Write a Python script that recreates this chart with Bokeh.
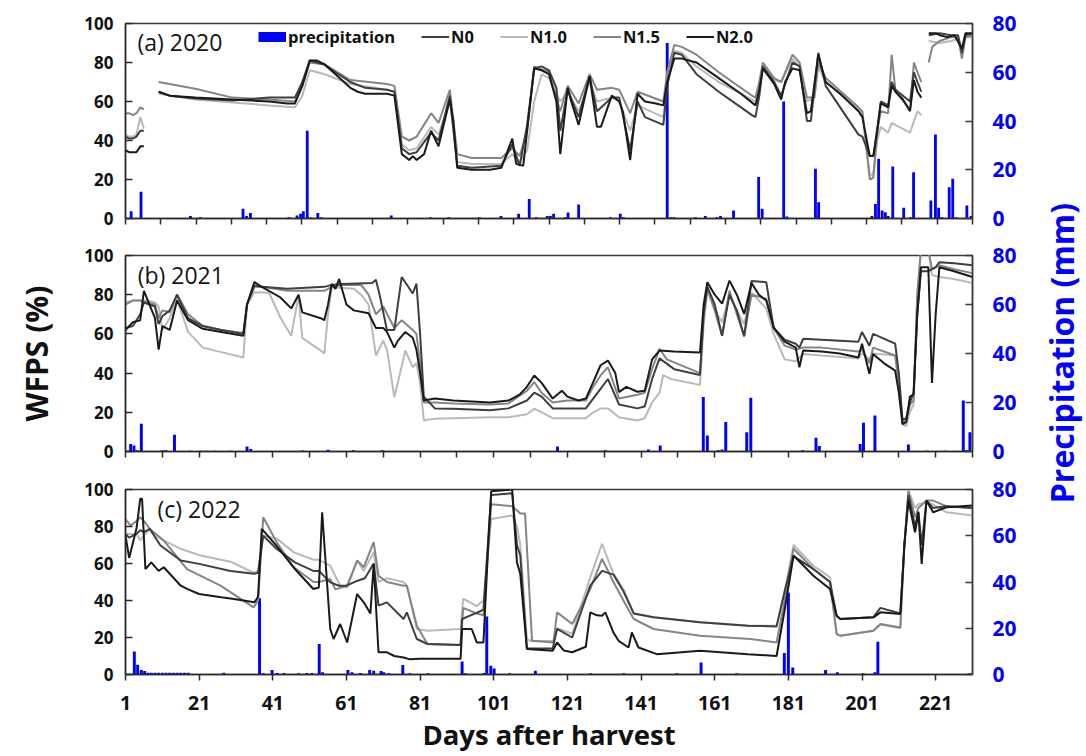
import math
from bokeh.plotting import figure
from bokeh.models import Range1d, LinearAxis, FixedTicker, Label, Legend, LegendItem
from bokeh.layouts import column, row
from bokeh.embed import file_html
from bokeh.resources import INLINE

NaN = float("nan")

# ---------------- 2020 (panel a, x axis 0..240) ----------------
A_PRECIP = [(1.6, 3), (4.4, 11), (18.4, 1), (21.2, 0.5), (33.3, 4), (34.3, 1), (35.4, 2.3), (46.3, 0.5),
            (48.6, 1.2), (49.6, 1.9), (50.4, 3), (51.5, 36), (52.6, 0.4), (54.5, 2.3), (55.4, 0.5), (75.3, 1.2),
            (86.4, 0.5), (91.6, 0.5), (100.3, 0.5), (106.4, 1), (111.4, 1.9), (114.4, 8), (116.4, 0.5),
            (119.5, 1), (120.4, 1), (121.3, 1.9), (124.6, 0.5), (125.4, 2.5), (128.4, 5.7), (137.4, 0.5),
            (140.2, 1.9), (141.1, 0.5), (153.5, 72), (154.5, 0.5), (155.4, 0.5), (161.5, 0.5), (164.3, 1),
            (167.6, 0.5), (168.6, 1), (172.3, 3.3), (179.4, 17), (180.4, 4), (186.5, 48), (187.4, 0.8),
            (195.5, 20.4), (196.4, 6.7), (211.5, 1), (212.5, 6), (213.4, 24.5), (214.4, 3.3), (215.3, 2.6),
            (216.1, 1), (217.4, 21.3), (220.5, 4.4), (222.4, 0.5), (223.3, 19), (228.2, 7.4), (229.5, 34.5),
            (230.4, 4.4), (231.3, 0.5), (233.4, 12.8), (234.4, 16.3), (235.3, 0.5), (238.4, 5.3), (239.6, 1)]

A_N0 = [(0, 42), (1, 41), (2.1, 41), (3.1, 42), (4.2, 45), (5.2, 45), (6, NaN),
        (9.4, 65), (12.5, 63), (19.8, 61.5), (30.3, 60.5), (40.7, 62), (48.0, 62), (50.1, 70), (52.2, 81),
        (54.3, 80), (56.4, 79), (59.5, 75), (63.7, 70), (67.9, 67), (74.1, 66), (76.2, 65), (78.3, 36),
        (80.4, 33), (82.5, 34), (86.6, 44), (88.7, 40), (91.9, 63), (94.0, 27), (98.1, 26), (106.5, 27),
        (109.6, 38), (111.7, 27), (113.8, 48), (115.8, 77), (117.9, 78), (120.0, 76), (122.1, 67),
        (123.2, 45), (125.3, 66), (128.4, 52), (131.5, 73), (133.6, 55), (137.8, 62), (139.9, 62),
        (143.0, 35), (145.1, 60), (147.2, 52), (152.4, 48), (153.5, 68), (155.5, 85), (157.6, 84),
        (161.8, 74), (168.1, 65), (174.4, 57), (177.5, 53), (178.5, 52), (179.6, 63), (180.6, 78),
        (183.8, 70), (185.8, 63), (189.0, 80), (191.0, 78), (193.1, 50), (194.2, 50), (196.3, 85),
        (198.4, 68), (207.7, 43), (208.8, 42), (210.9, 32), (211.9, 32), (213.0, 44), (214.0, 60),
        (216.1, 58), (217.1, 70), (218.2, 66), (222.3, 60), (223.4, 75), (224.4, 70), (225.5, 65),
        (226.5, NaN), (227.6, 94), (230.7, 95), (233.9, 94), (235.9, 94), (237.0, 85), (238.0, 94), (240, 95)]

A_N10 = [(0, 43), (1, 42), (2.1, 42), (3.1, 43), (4.2, 52), (5.2, 46), (6, NaN),
         (9.4, 64), (19.8, 61), (30.3, 59.5), (40.7, 58), (48.0, 57), (50.1, 63), (52.2, 76), (56.4, 74),
         (63.7, 69), (74.1, 66), (76.2, 65), (78.3, 38), (80.4, 35), (82.5, 36), (86.6, 47), (88.7, 43),
         (91.9, 60), (94.0, 29), (98.1, 28), (106.5, 28), (109.6, 33), (111.7, 29), (113.8, 35), (115.8, 60),
         (117.9, 74), (120.0, 72), (123.2, 60), (125.3, 65), (128.4, 55), (131.5, 70), (133.6, 60),
         (137.8, 62), (139.9, 60), (143.0, 45), (145.1, 58), (152.4, 52), (153.5, 70), (155.5, 86),
         (157.6, 85), (161.8, 78), (168.1, 70), (177.5, 61), (178.5, 60), (179.6, 68), (180.6, 78),
         (183.8, 71), (185.8, 70), (189.0, 82), (191.0, 78), (193.1, 60), (195.2, 62), (196.3, 78),
         (198.4, 70), (207.7, 56), (208.8, 54), (210.9, 22), (211.9, 23), (213.0, 40), (214.0, 47),
         (216.1, 44), (217.1, 49), (219.2, 47), (222.3, 44), (223.4, 50), (224.4, 55), (225.5, 53),
         (226.5, NaN), (227.6, 91), (230.7, 90), (233.9, 91), (235.9, 92), (237.0, 88), (238.0, 93), (240, 93)]

A_N15 = [(0, 54), (1, 54), (2.1, 53), (3.1, 54), (4.2, 57), (5.2, 56), (6, NaN),
         (9.4, 70), (19.8, 66.5), (30.3, 62), (40.7, 61), (48.0, 60), (50.1, 68), (52.2, 80), (56.4, 79),
         (63.7, 71), (74.1, 69), (76.2, 68), (78.3, 42), (80.4, 40), (82.5, 42), (86.6, 54), (88.7, 49),
         (91.9, 66), (94.0, 33), (98.1, 31), (106.5, 31), (109.6, 36), (111.7, 32), (113.8, 45), (115.8, 78),
         (120.0, 75), (123.2, 55), (125.3, 68), (128.4, 59), (131.5, 74), (133.6, 66), (137.8, 67),
         (139.9, 66), (143.0, 54), (145.1, 65), (152.4, 60), (153.5, 75), (155.5, 89), (157.6, 88),
         (161.8, 84), (168.1, 75), (177.5, 63), (178.5, 62), (179.6, 70), (180.6, 80), (183.8, 72),
         (185.8, 70), (189.0, 84), (191.0, 80), (193.1, 62), (195.2, 62), (196.3, 80), (198.4, 72),
         (207.7, 57), (208.8, 55), (210.9, 20), (211.9, 21), (213.0, 45), (214.0, 55), (216.1, 54),
         (217.1, 84), (218.2, 65), (222.3, 56), (223.4, 80), (224.4, 75), (225.5, 70), (226.5, NaN),
         (227.6, 80), (228.6, 88), (230.7, 91), (233.9, 93), (235.9, 93), (237.0, 82), (238.0, 93), (240, 94)]

A_N20 = [(0, 35), (1, 34), (2.1, 34), (3.1, 34), (4.2, 37), (5.2, 37), (6, NaN),
         (9.4, 65), (12.5, 63), (19.8, 62), (30.3, 61), (40.7, 60), (45.9, 59), (48.0, 59), (50.1, 68),
         (52.2, 81), (54.3, 81), (56.4, 79), (59.5, 74), (63.7, 67), (65.8, 65), (67.9, 64), (69.9, 64),
         (74.1, 64), (76.2, 63), (78.3, 33), (80.4, 30), (81.4, 32), (82.5, 30), (84.6, 33), (86.6, 45),
         (88.7, 37), (91.9, 61), (92.9, 50), (94.0, 26), (98.1, 25), (103.3, 25), (106.5, 26), (109.6, 41),
         (110.7, 28), (112.7, 27), (113.8, 45), (115.8, 77), (117.9, 76), (120.0, 74), (122.1, 60),
         (123.2, 33), (125.3, 67), (126.3, 60), (128.4, 48), (131.5, 73), (133.6, 47), (134.7, 47),
         (137.8, 63), (139.9, 60), (140.9, 55), (143.0, 30), (145.1, 64), (147.2, 60), (150.3, 59),
         (152.4, 58), (153.5, 70), (155.5, 82), (157.6, 82), (161.8, 80), (168.1, 72), (174.4, 64),
         (178.5, 58), (179.6, 66), (180.6, 77), (183.8, 69), (185.8, 61), (186.9, 70), (189.0, 77),
         (191.0, 76), (193.1, 54), (194.2, 55), (196.3, 84), (198.4, 70), (202.5, 64), (207.7, 55),
         (208.8, 52), (210.9, 32), (211.9, 32), (213.0, 46), (214.0, 59), (216.1, 57), (217.1, 68),
         (218.2, 65), (220.3, 61), (222.3, 55), (223.4, 71), (224.4, 65), (225.5, 62), (226.5, NaN),
         (227.6, 95), (229.7, 95), (230.7, 94), (232.8, 93), (234.9, 94), (237.0, 87), (238.0, 95), (240, 95)]

# ---------------- 2021 (panel b) ----------------
B_PRECIP = [(2.4, 3.1), (3.3, 2.4), (4.2, 0.5), (5.3, 11.3), (11, 0.5), (12, 0.5), (14.3, 6.8), (18.4, 0.3),
            (21.3, 0.3), (23.1, 0.3), (25.3, 0.3), (29.3, 0.3), (34, 2), (35, 1), (49, 0.4), (56, 0.7),
            (62.9, 0.5), (70.7, 0.5), (118.3, 2), (131.3, 0.5), (143, 0.8), (146.2, 2.4), (157.9, 22.2),
            (159, 6.5), (162, 0.5), (163, 0.8), (164, 12), (169.7, 7.9), (170.8, 21.9), (184.9, 0.5),
            (188.5, 5.6), (189.4, 2.2), (200.5, 3.1), (201.4, 11.7), (204.5, 14.7), (213.6, 2.9),
            (218.6, 0.3), (223.6, 0.3), (228.5, 20.8), (229.4, 0.5), (230.3, 7.9)]

B_N0 = [(1, 63), (3, 64), (5, 70), (6, 76), (9, 74), (10, 65), (11, 69), (13, 72), (15, 80), (18, 68), (22, 64),
        (27, 62), (33, 60), (34, 75), (36, 84.7), (38, 84), (45, 83), (55, 84), (57, 85), (60, 85.5), (68, 86),
        (69, 87.6), (70, 80), (72, 62), (74, 62), (76, 89), (79, 80.6), (80, 85.7), (81, 60), (82, 28), (85, 22),
        (90, 21.8), (100, 21), (105, 22), (110, 26), (112, 30), (114, 28), (117, 22), (121, 22), (126, 22),
        (128, 27), (130, 32), (132, 37), (135, 24), (140, 22), (142, 23), (144, 37), (146, 47.5), (150, 42),
        (157, 39), (158, 70), (159, 84), (161, 75), (163, 59), (165, 80), (167, 72), (169, 58.7), (171, 87),
        (175, 86.4), (177, 63), (180, 57), (183, 55), (184, 53), (185, 57.5), (190, 57), (200, 56), (201, 61),
        (203, 54), (204, 60), (210, 55), (211, 40), (212, 16), (213, 17), (214, 25), (215, 30), (216, 70),
        (217, 92), (219, 92), (221, 94), (222, 96.6), (226, 96), (231, 95)]

B_N10 = [(1, 76), (3, 77), (5, 77), (7, 77), (9, 76), (10, 74), (11, 62), (13, 68), (15, 77.6), (18, 61),
         (22, 53), (27, 50.7), (33, 48), (34, 75), (36, 81.3), (40, 81), (43, 68.5), (46, 59), (48, 79.6),
         (49, 58), (54, 51.5), (55, 50), (56, 70), (57, 83.8), (63, 83), (65, 80), (67, 75), (69, 49),
         (71, 56.6), (72, 52), (74, 27.7), (77, 51.5), (79, 43), (80, 45), (81, 35), (82, 16), (85, 16.7),
         (90, 17), (100, 17.5), (105, 17.5), (110, 19), (112, 21.8), (114, 20), (117, 17), (121, 17), (126, 17),
         (128, 20), (130, 21.9), (132, 22), (135, 17.5), (140, 15.8), (142, 17), (144, 25), (146, 30),
         (147, 39), (149, 37), (157, 34), (158, 65), (159, 82), (161, 72), (163, 66), (165, 80), (167, 72),
         (169, 65), (171, 81), (175, 73), (177, 60), (180, 47), (183, 46), (185, 49.8), (190, 49), (200, 47.5),
         (201, 50), (203, 47), (204, 50), (210, 49), (211, 35), (212, 14), (213, 13), (214, 20), (215, 24),
         (216, 80), (217, 103), (219, 103), (220, 90), (222, 89), (226, 88), (231, 86)]

B_N15 = [(1, 75), (3, 77), (5, 77), (7, 76), (9, 75), (10, 68), (11, 72), (13, 71), (15, 80), (18, 70), (22, 64),
         (27, 62), (33, 60.5), (34, 75), (36, 84), (38, 84), (45, 82), (55, 82), (57, 84), (60, 85), (65, 85),
         (67, 80), (69, 70), (71, 74), (74, 63), (76, 67), (79, 62), (80, 60), (81, 45), (82, 25), (85, 25),
         (90, 24.5), (100, 24), (105, 24.5), (110, 31), (112, 35.4), (114, 30), (117, 25), (121, 26), (126, 26),
         (128, 33), (130, 38.8), (132, 43), (135, 27), (140, 29), (142, 30), (144, 42), (146, 52.4), (148, 47),
         (157, 40), (158, 70), (159, 84), (161, 72), (163, 59), (165, 82), (167, 70), (169, 59), (171, 80),
         (175, 78), (177, 63), (180, 54), (183, 52), (185, 53), (190, 53), (200, 51), (201, 52), (203, 45),
         (204, 53), (210, 49), (211, 35), (212, 14), (213, 16), (214, 24), (215, 26), (216, 80), (217, 103),
         (219, 103), (220, 93), (222, 95), (226, 93), (231, 91)]

B_N20 = [(1, 62), (3, 66), (5, 67), (6, 82), (9, 68), (10, 52), (11, 64), (13, 62), (15, 77), (18, 67),
         (22, 62.6), (27, 61), (33, 59), (34, 75), (36, 86.5), (38, 84), (43, 78.7), (46, 73), (48, 80), (49, 71),
         (54, 68), (55, 67), (56, 75), (57, 85.5), (58, 83), (59, 88), (61, 75), (63, 72), (67, 70.5), (69, 63),
         (71, 63), (72, 61), (74, 53), (75, 56.6), (77, 61), (79, 58), (80, 52), (81, 40), (82, 26), (85, 27),
         (90, 26), (95, 25.5), (100, 25), (105, 26), (108, 29), (110, 33), (112, 38.8), (114, 35), (117, 27),
         (119.5, 31), (121, 28), (124, 26), (126, 27), (128, 35.4), (130, 44), (132, 46.4), (134, 40),
         (135, 30.3), (137, 33), (140, 30.5), (142, 31), (144, 47), (146, 51.5), (150, 51), (157, 50.5),
         (158, 75), (159, 86.4), (161, 80), (163, 75.4), (165, 87.2), (167, 80), (169, 70.2), (171, 86),
         (173, 80), (175, 77), (177, 63.4), (180, 56), (183, 53), (184, 43), (185, 51.5), (190, 51), (195, 50),
         (200, 48), (201, 55), (203, 39.6), (204, 49.8), (207, 45), (210, 41.3), (211, 30), (212, 14), (213, 15),
         (214, 28), (215, 29), (216, 70), (217, 94), (219, 94), (220, 35), (221, 70), (222, 94), (226, 92),
         (231, 89)]

# ---------------- 2022 (panel c) ----------------
C_PRECIP = [(3.4, 10), (4.3, 4.2), (5.3, 2), (6.2, 1.5), (7.1, 0.8), (8, 0.8), (9, 0.8), (10, 0.8), (11, 0.8),
            (12, 0.8), (13, 0.8), (14, 0.8), (15, 0.8), (16, 0.8), (17, 0.8), (18, 0.8), (27.7, 0.8), (37.4, 33),
            (38.4, 0.5), (40.8, 1.9), (42.2, 0.7), (44, 0.7), (48, 0.5), (50.3, 0.7), (51.6, 0.7), (53.6, 13.2),
            (54.5, 1), (61.4, 2), (62.5, 1), (64.8, 0.7), (67.3, 2), (68.4, 1.6), (70.4, 1.5), (71.1, 1),
            (72.5, 0.5), (76.3, 4.1), (78.3, 0.5), (83.2, 0.5), (92.4, 5.6), (93.3, 0.5), (98.4, 0.7),
            (99.1, 25.1), (100.2, 3.8), (101.1, 2.6), (105.3, 0.5), (112.3, 1.6), (127.3, 0.5), (136.3, 0.5),
            (150.7, 0.5), (157.3, 5.2), (167, 0.5), (179.9, 9.3), (181, 35.5), (182.2, 3), (191.1, 2),
            (194.3, 1), (201.3, 0.5), (204.5, 1), (205.3, 14.2), (230.3, 0.5)]

C_N0 = [(1, 76), (2, 74), (4, 76), (5, 78), (6, 77), (7.6, 78.7), (10.5, 69.7), (16, 61.6), (21, 59.8),
        (29.5, 56), (36, 54.4), (37, 55), (38.4, 75), (42, 68), (47, 60.6), (52, 56), (53.5, 56), (56.6, 49.8),
        (59, 48), (61, 48), (64, 50.7), (66, 52), (68.4, 60), (69.7, 37.2), (72, 39), (76.5, 30), (77.4, 33.6),
        (80.1, 19.2), (83, 16.5), (92, 16), (92.4, 30), (96, 33), (98.2, 35), (100.3, 97), (106, 98),
        (107.3, 70), (108.2, 64.3), (110, 14), (117, 14), (118.2, 24.6), (122.3, 20), (127.2, 48), (130.4, 56),
        (133.5, 54), (136.2, 45), (139, 33), (144.4, 30.9), (157, 28.2), (170, 26.4), (177.8, 26), (180, 45),
        (182.4, 64), (187.8, 57), (192.3, 50), (194.1, 31.8), (195.1, 30), (204.1, 31), (206, 36), (211.4, 33),
        (212.5, 70), (213.6, 97), (215.4, 80), (216.3, 88), (217.2, 70), (218.5, 94), (220.3, 90), (223.9, 91),
        (231, 90)]

C_N10 = [(1, 76), (2.4, 76), (4, 76), (5, 72.4), (6.4, 76), (7.6, 78.7), (10.5, 73.3), (15.9, 68), (21.4, 64.3),
         (29.5, 61), (35.8, 55), (37, 56), (38.4, 75), (42.2, 73.3), (46.7, 66), (52.1, 62), (53.5, 62),
         (56.6, 58.8), (59.3, 48), (61.2, 47), (63.9, 61.6), (65.7, 56), (68.4, 66), (69.7, 50), (72, 52),
         (76.5, 50), (77.4, 48), (80.1, 24.6), (83, 23.7), (92, 24.6), (92.7, 41), (96.4, 37), (98.2, 40),
         (100.3, 84), (106, 86), (107.3, 80), (108.2, 70), (110, 19), (111.4, 18), (117.2, 18.2), (118.2, 25),
         (122.3, 22), (127.2, 52.5), (130.4, 70.6), (133.5, 54.4), (136.2, 46.2), (139, 33), (144.4, 30.9),
         (157, 28.2), (170.6, 26.4), (177.8, 26.4), (180, 45), (182.4, 70), (187.8, 58.8), (192.3, 52.5),
         (194.1, 21.9), (195.1, 21), (204.1, 23.7), (206, 27), (211.4, 25), (212.5, 70), (213.6, 99.5),
         (215.4, 90), (216.3, 92), (218.5, 93), (220.3, 92), (223.9, 87.7), (231, 86)]

C_N15 = [(1, 84), (2.4, 80.5), (4, 83), (5, 85), (6.4, 82), (7.6, 78.7), (11.4, 72.4), (17.7, 57), (26.8, 48),
         (35.8, 36.3), (37, 40), (38.4, 85), (42.2, 71), (46.7, 58), (52.1, 50), (53.5, 50), (56.6, 51.6),
         (58, 46), (61.2, 48), (63.9, 61.6), (65.7, 58), (68.4, 71.5), (69.7, 53.4), (72, 50), (76.5, 48),
         (77.4, 48), (80.1, 26.4), (83, 16.5), (92, 16), (92.7, 36), (96.4, 33), (98.2, 32), (100.3, 92),
         (106, 91), (108.2, 87), (109.5, 87), (111.4, 18.2), (117.2, 17.3), (118.2, 33.6), (122.3, 27.3),
         (127.2, 46.2), (130.4, 62.5), (133.5, 50), (136.2, 40), (139, 30), (144.4, 24.6), (157, 21),
         (170.6, 19.2), (177.8, 17.3), (180, 40), (182.4, 68), (187.8, 57), (192.3, 50), (194.1, 21.9),
         (195.1, 21), (204.1, 23.7), (206, 27.3), (211.4, 25.4), (212.5, 70), (213.6, 99), (215.4, 85),
         (216.3, 90), (218.5, 94), (220.3, 94), (223.9, 91), (231, 90)]

C_N20 = [(1, 75), (2, 63), (4, 79), (5, 95), (5.5, 95), (6.4, 57), (8, 60.6), (10, 56), (11.4, 58), (16, 48),
         (18, 46), (21, 43.5), (27, 41.7), (30, 41), (36, 39), (37, 42), (38, 78.7), (42, 69.7), (47, 57),
         (52, 46.2), (53.5, 47), (54.4, 87.7), (56.6, 24.6), (57.5, 19.2), (59.3, 27.3), (61.2, 17.3),
         (63.9, 43.5), (65.7, 39), (67.5, 33), (68.4, 59.8), (69.7, 12), (72, 12), (74, 10), (76.5, 9.2),
         (78, 8.3), (81, 8.5), (92, 8.5), (92.4, 24.6), (95, 24.6), (96.4, 17.3), (98.2, 17.3), (99.5, 70),
         (100.3, 99), (106, 100), (107.3, 60.6), (108.2, 54.4), (110, 13.8), (117, 12.8), (118.2, 17.3),
         (120, 13), (122.3, 12), (126, 15), (127.2, 33.6), (129, 32), (130.4, 31.8), (131.3, 33.6),
         (133.5, 22.7), (134.9, 18.2), (137.6, 14.6), (138.5, 22.7), (140.3, 14.6), (145.3, 11), (157, 12.8),
         (170, 11), (177.8, 10), (180, 35), (182.4, 64.3), (187.8, 53.4), (192.3, 46.2), (194.1, 31.8),
         (195.1, 30), (204.1, 30.9), (206, 33.6), (211.4, 32.7), (212.5, 70), (213.6, 94), (215.4, 76.9),
         (216.3, 87.7), (217.2, 59.8), (218.5, 94), (220.3, 87.7), (223.9, 90.4), (231, 91.3)]

TREATMENTS = ["N0", "N1.0", "N1.5", "N2.0"]
WFPS_TICKS = [0, 20, 40, 60, 80, 100]
PRECIP_TICKS = [0, 20, 40, 60, 80]

FONT = "Open Sans"
COLORS = {"N0": "#3f3f3f", "N1.0": "#b9b9b9", "N1.5": "#858585", "N2.0": "#1a1a1a"}
DRAW_ORDER = ["N1.0", "N1.5", "N0", "N2.0"]
W = 1036          # width of the three panels
TITLE_W = 50      # strip on the right that holds the precipitation title
H_TOTAL = 755


def split(pairs):
    return [d for d, _ in pairs], [v for _, v in pairs]


def make_panel(height, top, bottom, xr, xticks, show_xlabels, precip, series, tag, tag_pos):
    p = figure(width=W, height=height, x_range=Range1d(*xr), y_range=Range1d(0, 100),
               output_backend="svg", toolbar_location=None,
               min_border_left=125, min_border_right=W - 972, min_border_top=top, min_border_bottom=bottom)
    p.extra_y_ranges = {"pr": Range1d(0, 80)}
    p.xgrid.visible = False
    p.ygrid.visible = False
    p.outline_line_color = "#3a3a3a"
    p.outline_line_width = 1.5
    p.background_fill_color = "white"
    p.border_fill_color = "white"

    xa = p.xaxis[0]
    xa.ticker = FixedTicker(ticks=xticks)
    xa.major_tick_in = 0
    xa.major_tick_out = 6
    xa.minor_tick_line_color = None
    xa.axis_line_color = "#2a2a2a"
    xa.axis_line_width = 1.5
    xa.major_tick_line_color = "#2a2a2a"
    xa.major_tick_line_width = 1.5
    if show_xlabels:
        xa.major_label_text_font = FONT
        xa.major_label_text_font_style = "bold"
        xa.major_label_text_font_size = "19.5px"
        xa.major_label_text_color = "#111111"
        xa.major_label_standoff = 15
    else:
        xa.major_label_text_color = None

    ya = p.yaxis[0]
    ya.ticker = FixedTicker(ticks=WFPS_TICKS)
    ya.major_tick_in = 7
    ya.major_tick_out = 0
    ya.minor_tick_line_color = None
    ya.axis_line_color = "#2a2a2a"
    ya.axis_line_width = 1.5
    ya.major_tick_line_color = "#2a2a2a"
    ya.major_tick_line_width = 1.5
    ya.major_label_text_font = FONT
    ya.major_label_text_font_style = "bold"
    ya.major_label_text_font_size = "17px"
    ya.major_label_text_color = "#111111"
    ya.major_label_standoff = 12

    ra = LinearAxis(y_range_name="pr", ticker=FixedTicker(ticks=PRECIP_TICKS))
    ra.major_tick_in = 7
    ra.major_tick_out = 0
    ra.minor_tick_line_color = None
    ra.axis_line_color = "#3a3a3a"
    ra.axis_line_width = 1.5
    ra.major_tick_line_color = "#3a3a3a"
    ra.major_tick_line_width = 1.5
    ra.major_label_text_font = FONT
    ra.major_label_text_font_style = "bold"
    ra.major_label_text_font_size = "21px"
    ra.major_label_text_color = "#0000ff"
    ra.major_label_standoff = 20
    p.add_layout(ra, "right")

    pd, pm = split(precip)
    bars = p.vbar(x=pd, top=pm, bottom=0, width=0.8, y_range_name="pr",
                  fill_color="#0000ff", line_color=None)

    lines = {}
    for name in DRAW_ORDER:
        d, v = split(series[name])
        lines[name] = p.line(d, v, line_color=COLORS[name], line_width=2)

    p.add_layout(Label(x=tag_pos[0], y=tag_pos[1], text=tag, text_font=FONT, text_font_size="23px",
                       text_color="#151515", text_align="left", text_baseline="middle"))
    return p, bars, lines


pa, bars_a, lines_a = make_panel(237, 23, 19, (0, 240), list(range(0, 241, 10)), False, A_PRECIP,
                                 {"N0": A_N0, "N1.0": A_N10, "N1.5": A_N15, "N2.0": A_N20},
                                 "(a)  2020", (3.4, 90.5))
pb, bars_b, lines_b = make_panel(233, 18, 19, (1, 231), list(range(1, 232, 10)), False, B_PRECIP,
                                 {"N0": B_N0, "N1.0": B_N10, "N1.5": B_N15, "N2.0": B_N20},
                                 "(b)  2021", (4.3, 89.8))
pc, bars_c, lines_c = make_panel(H_TOTAL - 237 - 233, 19, H_TOTAL - 237 - 233 - 19 - 185, (1, 231),
                                 list(range(1, 232, 20)), True, C_PRECIP,
                                 {"N0": C_N0, "N1.0": C_N10, "N1.5": C_N15, "N2.0": C_N20},
                                 "(c)  2022", (9.7, 89.7))

# legend (panel a): a thick blue swatch stands for the precipitation bars
swatch = pa.line(x=[NaN], y=[NaN], line_color="#0000ff", line_width=10, line_cap="butt")
items = [LegendItem(label="precipitation", renderers=[swatch])]
for name in TREATMENTS:
    items.append(LegendItem(label=name, renderers=[lines_a[name]]))
legend = Legend(items=items, orientation="horizontal", location=(133, 170),
                glyph_width=28, glyph_height=23, label_height=23, label_standoff=2, spacing=26,
                padding=0, margin=0, border_line_color=None, background_fill_alpha=0,
                label_text_font=FONT, label_text_font_style="bold", label_text_font_size="16.5px",
                label_text_color="#111111")
pa.add_layout(legend)

# shared axis titles
yl = pb.yaxis[0]
yl.axis_label = "WFPS (%)"
yl.axis_label_text_font = FONT
yl.axis_label_text_font_style = "bold"
yl.axis_label_text_font_size = "30px"
yl.axis_label_text_color = "#111111"
yl.axis_label_standoff = 24

xl = pc.xaxis[0]
xl.axis_label = "Days after harvest"
xl.axis_label_text_font = FONT
xl.axis_label_text_font_style = "bold"
xl.axis_label_text_font_size = "27.5px"
xl.axis_label_text_color = "#111111"
xl.axis_label_standoff = 3

# right-hand title strip spanning all three panels
pt = figure(width=TITLE_W, height=H_TOTAL, x_range=Range1d(0, 1), y_range=Range1d(0, 1),
            output_backend="svg", toolbar_location=None, x_axis_location=None, y_axis_location=None,
            min_border=0, outline_line_color=None)
pt.xgrid.visible = False
pt.ygrid.visible = False
pt.add_layout(Label(x=0.5, y=0.533, text="Precipitation (mm)", angle=math.pi / 2,
                    text_align="center", text_baseline="middle", text_font=FONT, text_font_style="bold",
                    text_font_size="32px", text_color="#0000ff"))

layout = row(column(pa, pb, pc, spacing=0), pt, spacing=0)
open("out.html", "w").write(file_html(layout, INLINE))
